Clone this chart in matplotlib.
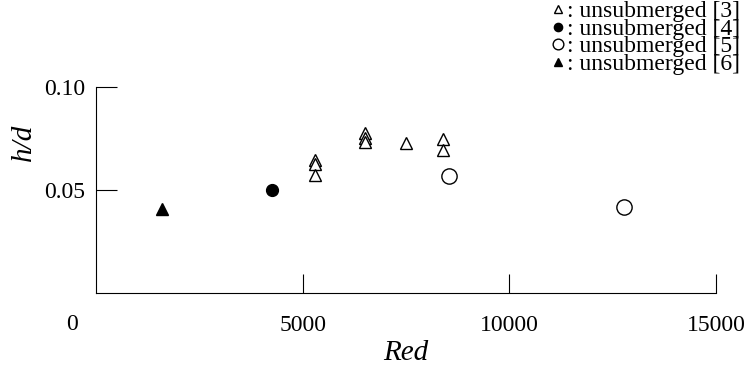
import matplotlib
matplotlib.use("Agg")
import matplotlib.pyplot as plt

plt.rcParams['font.family'] = ['Liberation Serif', 'DejaVu Serif']

# data
ref3_x = [5300, 5300, 5300, 6500, 6500, 6500, 7500, 8400, 8400]
ref3_y = [0.0646, 0.0626, 0.0574, 0.0775, 0.0751, 0.0735, 0.0727, 0.0748, 0.0694]
ref4_x = [4270]
ref4_y = [0.050]
ref5_x = [8530, 12780]
ref5_y = [0.0568, 0.0416]
ref6_x = [1600]
ref6_y = [0.0406]

xticks = [5000, 10000, 15000]
yticks = [0.05, 0.10]

fig = plt.figure(figsize=(7.44, 3.77), dpi=100)
ax = fig.add_axes([0.129, 0.223, 0.8334, 0.546])

ax.plot(ref3_x, ref3_y, ls='none', marker='^', ms=9, mfc='white', mec='black',
        mew=1.0, label=': unsubmerged [3]')
ax.plot(ref4_x, ref4_y, ls='none', marker='o', ms=8.5, mfc='black', mec='black',
        label=': unsubmerged [4]')
ax.plot(ref5_x, ref5_y, ls='none', marker='o', ms=11, mfc='white', mec='black',
        mew=1.0, label=': unsubmerged [5]')
ax.plot(ref6_x, ref6_y, ls='none', marker='^', ms=8, mfc='black', mec='black',
        label=': unsubmerged [6]')

ax.set_xlim(0, 15000)
ax.set_ylim(0, 0.1)
ax.spines['top'].set_visible(False)
ax.spines['right'].set_visible(False)

ax.set_xticks(xticks)
ax.set_xticklabels([str(t) for t in xticks])
ax.set_yticks(yticks)
ax.set_yticklabels(['0.05', '0.10'])
ax.tick_params(axis='x', direction='in', length=14, width=0.8, pad=16, labelsize=17)
ax.tick_params(axis='y', direction='in', length=15, width=0.8, pad=8, labelsize=17)

# origin label sits left of the corner
ax.annotate('0', xy=(0, 0), xycoords=('data', 'axes fraction'),
            xytext=(-24, -32), textcoords='offset pixels',
            ha='center', va='center', fontsize=17)

ax.set_xlabel('Red', fontsize=21, style='italic')
ax.xaxis.set_label_coords(0.5, -0.23)
ax.set_ylabel('h/d', fontsize=21, style='italic')
ax.yaxis.set_label_coords(-0.095, 0.733)

fig.legend(loc='upper right', bbox_to_anchor=(0.995, 0.998), frameon=False,
           fontsize=17, markerscale=0.7, handlelength=0.5, handletextpad=0.15,
           labelspacing=-0.17, borderaxespad=0.0, borderpad=0.0)

fig.savefig('out.png', dpi=100)
